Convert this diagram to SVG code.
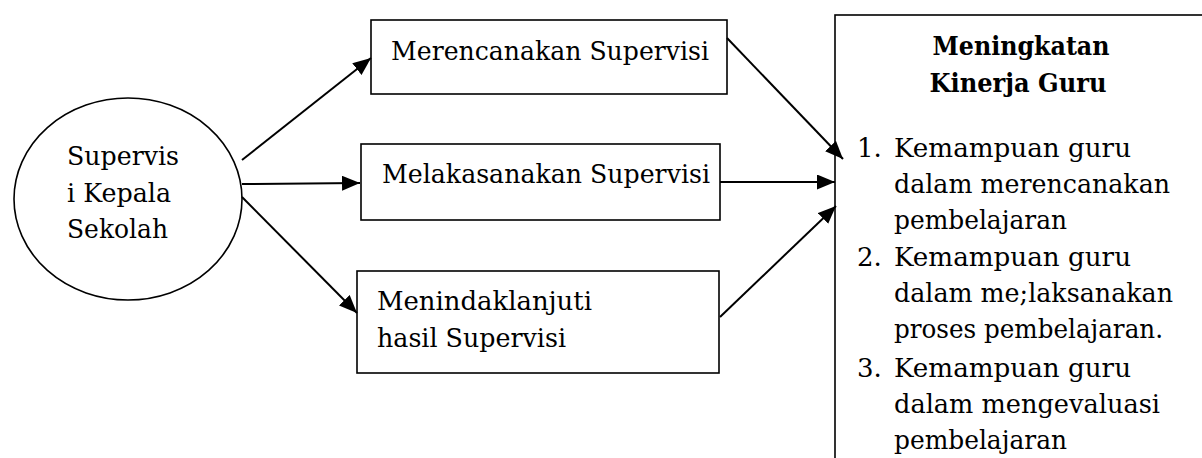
<svg xmlns="http://www.w3.org/2000/svg" width="1202" height="458" viewBox="0 0 1202 458">
<style>
.box{fill:#fff;stroke:#000;stroke-width:1.6}
.t{font-family:'DejaVu Serif',serif;font-size:26px;fill:#000}
.b{font-weight:bold;text-anchor:middle}
.c{stroke:#000;stroke-width:2;fill:none;marker-end:url(#ah)}
</style>
<defs>
<marker id="ah" markerUnits="userSpaceOnUse" markerWidth="20" markerHeight="16" refX="18" refY="7.5" orient="auto">
<path d="M0,0 L18,7.5 L0,15 z" fill="#000"/>
</marker>
</defs>
<rect width="1202" height="458" fill="#fff"/>
<g id="n-supervisi">
<ellipse class="box" cx="128" cy="199" rx="114" ry="101"/>
<text class="t" x="67" y="165" textLength="112" lengthAdjust="spacingAndGlyphs">Supervis</text>
<text class="t" x="67" y="202" textLength="104" lengthAdjust="spacingAndGlyphs">i Kepala</text>
<text class="t" x="67" y="238" textLength="101" lengthAdjust="spacingAndGlyphs">Sekolah</text>
</g>
<g id="n-merencanakan">
<rect class="box" x="371" y="20" width="356" height="74"/>
<text class="t" x="391" y="60" textLength="318" lengthAdjust="spacingAndGlyphs">Merencanakan Supervisi</text>
</g>
<g id="n-melaksanakan">
<rect class="box" x="361" y="144" width="359" height="76"/>
<text class="t" x="382" y="183" textLength="328" lengthAdjust="spacingAndGlyphs">Melakasanakan Supervisi</text>
</g>
<g id="n-menindaklanjuti">
<rect class="box" x="357" y="271" width="362" height="102"/>
<text class="t" x="377" y="310" textLength="215" lengthAdjust="spacingAndGlyphs">Menindaklanjuti</text>
<text class="t" x="377" y="347" textLength="189" lengthAdjust="spacingAndGlyphs">hasil Supervisi</text>
</g>
<g id="n-kinerja">
<rect class="box" x="835" y="15" width="420" height="480"/>
<text class="t b" x="1021" y="55" textLength="177" lengthAdjust="spacingAndGlyphs">Meningkatan</text>
<text class="t b" x="1018" y="92" textLength="177" lengthAdjust="spacingAndGlyphs">Kinerja Guru</text>
<text class="t" x="857" y="157">1.</text>
<text class="t" x="894" y="157" textLength="237" lengthAdjust="spacingAndGlyphs">Kemampuan guru</text>
<text class="t" x="894" y="193" textLength="276" lengthAdjust="spacingAndGlyphs">dalam merencanakan</text>
<text class="t" x="894" y="229" textLength="173" lengthAdjust="spacingAndGlyphs">pembelajaran</text>
<text class="t" x="857" y="266">2.</text>
<text class="t" x="894" y="266" textLength="237" lengthAdjust="spacingAndGlyphs">Kemampuan guru</text>
<text class="t" x="894" y="302" textLength="279" lengthAdjust="spacingAndGlyphs">dalam me;laksanakan</text>
<text class="t" x="894" y="338" textLength="269" lengthAdjust="spacingAndGlyphs">proses pembelajaran.</text>
<text class="t" x="857" y="377">3.</text>
<text class="t" x="894" y="377" textLength="237" lengthAdjust="spacingAndGlyphs">Kemampuan guru</text>
<text class="t" x="894" y="413" textLength="266" lengthAdjust="spacingAndGlyphs">dalam mengevaluasi</text>
<text class="t" x="894" y="449" textLength="173" lengthAdjust="spacingAndGlyphs">pembelajaran</text>
</g>
<g id="connectors">
<line class="c" x1="242" y1="160" x2="371" y2="58"/>
<line class="c" x1="242" y1="184" x2="360" y2="183"/>
<line class="c" x1="242" y1="197" x2="357" y2="313"/>
<line class="c" x1="727" y1="38" x2="843" y2="159"/>
<line class="c" x1="720" y1="182" x2="835" y2="182"/>
<line class="c" x1="720" y1="317" x2="836" y2="206"/>
</g>
</svg>
